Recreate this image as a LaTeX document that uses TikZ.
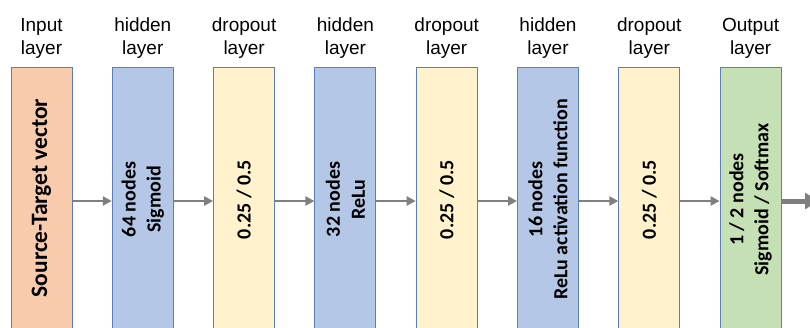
\documentclass[tikz,border=0pt]{standalone}
\usepackage{fontspec}
\setmainfont{Liberation Sans}
\newfontfamily\calib{Carlito}
\usetikzlibrary{arrows.meta}
\definecolor{inputc}{HTML}{F8CBAD}
\definecolor{hiddenc}{HTML}{B4C7E7}
\definecolor{dropc}{HTML}{FFF2CC}
\definecolor{outc}{HTML}{C5E0B4}
\definecolor{edgec}{HTML}{5B7DB8}
\definecolor{arrc}{HTML}{7F7F7F}
\begin{document}
\begin{tikzpicture}[x=1pt,y=-1pt,
  layerbox/.style={draw=edgec, line width=1pt, minimum width=61pt, minimum height=268pt, inner sep=0pt},
  boxtext/.style={rotate=90, align=center, inner sep=0pt, font=\calib\bfseries\fontsize{20}{25}\selectfont},
  bigtext/.style={rotate=90, align=center, inner sep=0pt, font=\calib\bfseries\fontsize{23.5}{28}\selectfont},
  toplabel/.style={align=center, inner sep=0pt, font=\fontsize{19}{23}\selectfont},
  conn/.style={draw=arrc, line width=2.4pt, -{Triangle[length=9pt,width=9pt]}},
  bigconn/.style={draw=arrc, line width=5pt, -{Triangle[length=13pt,width=16pt]}}
]
\useasboundingbox (0,0) rectangle (810,327);
\fill[white] (0,0) rectangle (810,327);

\node[layerbox, fill=inputc]  (b1) at (41.5,201) {};
\node[layerbox, fill=hiddenc] (b2) at (142.8,201) {};
\node[layerbox, fill=dropc]   (b3) at (244.1,201) {};
\node[layerbox, fill=hiddenc] (b4) at (345.4,201) {};
\node[layerbox, fill=dropc]   (b5) at (446.7,201) {};
\node[layerbox, fill=hiddenc] (b6) at (548,201) {};
\node[layerbox, fill=dropc]   (b7) at (649.3,201) {};
\node[layerbox, fill=outc]    (b8) at (750.6,201) {};

\node[bigtext] (t1) at (41.5,198) {Source-Target vector};
\node[boxtext] (t2) at (142.8,199.5) {64 nodes\\Sigmoid};
\node[boxtext] (t3) at (244.1,199.5) {0.25 / 0.5};
\node[boxtext] (t4) at (345.4,199.5) {32 nodes\\ReLu};
\node[boxtext] (t5) at (446.7,199.5) {0.25 / 0.5};
\node[boxtext] (t6) at (548,199.5) {16 nodes\\ReLu activation function};
\node[boxtext] (t7) at (649.3,199.5) {0.25 / 0.5};
\node[boxtext] (t8) at (750.6,199.5) {1 / 2 nodes\\Sigmoid / Softmax};

\node[toplabel] (l1) at (41.5,38.5) {Input\\layer};
\node[toplabel] (l2) at (142.8,38.5) {hidden\\layer};
\node[toplabel] (l3) at (244.1,38.5) {dropout\\layer};
\node[toplabel] (l4) at (345.4,38.5) {hidden\\layer};
\node[toplabel] (l5) at (446.7,38.5) {dropout\\layer};
\node[toplabel] (l6) at (548,38.5) {hidden\\layer};
\node[toplabel] (l7) at (649.3,38.5) {dropout\\layer};
\node[toplabel] (l8) at (750.6,38.5) {Output\\layer};

\draw[conn] (b1.east) -- (b2.west);
\draw[conn] (b2.east) -- (b3.west);
\draw[conn] (b3.east) -- (b4.west);
\draw[conn] (b4.east) -- (b5.west);
\draw[conn] (b5.east) -- (b6.west);
\draw[conn] (b6.east) -- (b7.west);
\draw[conn] (b7.east) -- (b8.west);
\coordinate (out) at (818,201);
\draw[bigconn] (b8.east) -- (out);
\end{tikzpicture}
\end{document}
